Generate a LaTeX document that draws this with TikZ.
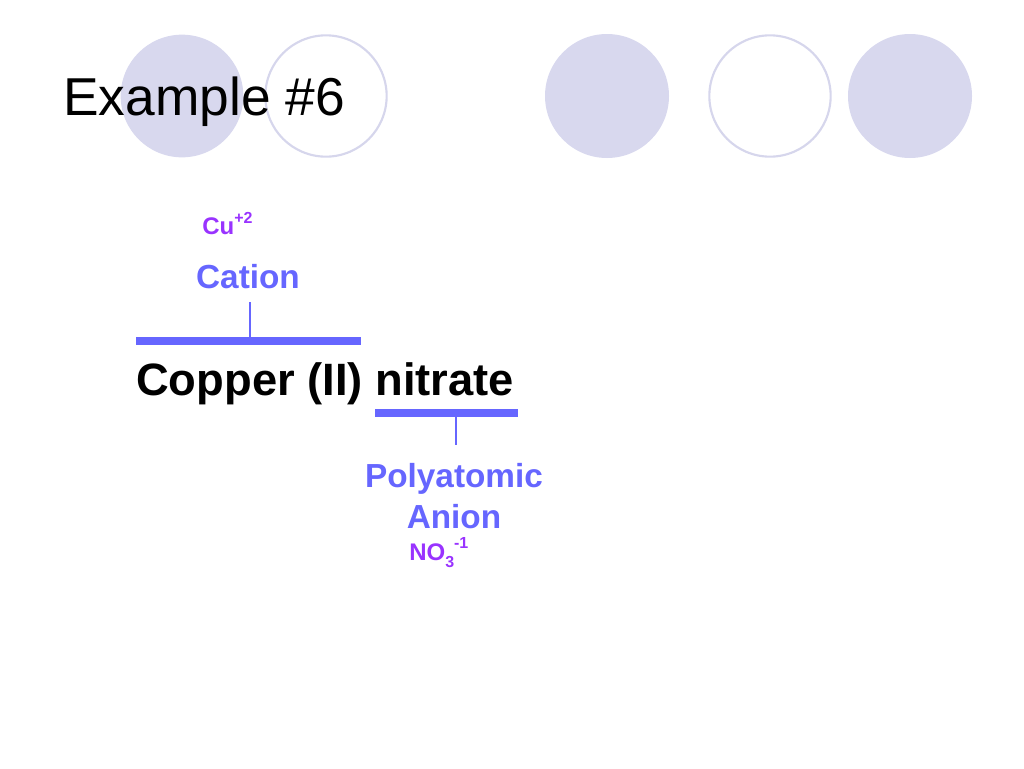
\documentclass[tikz,border=0pt]{standalone}
\usepackage{fontspec}
\setmainfont{Liberation Sans}
\definecolor{lav}{RGB}{216,216,238}
\definecolor{lavline}{RGB}{214,214,236}
\definecolor{ionblue}{RGB}{102,102,255}
\definecolor{ionpurple}{RGB}{153,51,255}
\tikzset{
  fillcirc/.style={fill=lav,draw=none},
  opencirc/.style={draw=lavline,line width=1.6pt,fill=white},
  bar/.style={draw=ionblue,line width=5.5pt},
  tick/.style={draw=ionblue,line width=1.5pt},
  lbl/.style={inner sep=0pt,anchor=base,text=ionblue,font=\fontsize{25}{30}\selectfont\bfseries},
  ion/.style={inner sep=0pt,anchor=base west,text=ionpurple,font=\fontsize{18}{22}\selectfont\bfseries},
}
\begin{document}
\begin{tikzpicture}[x=0.75pt,y=-0.75pt]
\useasboundingbox (0,0) rectangle (1024,768);
% decorative circles
\node[fillcirc,circle,minimum size=92pt,inner sep=0pt] (c1) at (182,96) {};
\node[opencirc,circle,minimum size=91pt,inner sep=0pt] (c2) at (326,96) {};
\node[fillcirc,circle,minimum size=93pt,inner sep=0pt] (c3) at (607,96) {};
\node[opencirc,circle,minimum size=91pt,inner sep=0pt] (c4) at (770,96) {};
\node[fillcirc,circle,minimum size=93pt,inner sep=0pt] (c5) at (910,96) {};
% title
\node[inner sep=0pt,anchor=base west,font=\fontsize{40}{48}\selectfont] (title) at (63,115) {Example \#6};
% main name
\node[inner sep=0pt,anchor=base west,font=\fontsize{34}{40}\selectfont\bfseries] (name) at (136,395) {Copper (II) nitrate};
% cation side
\node[ion] (cu) at (202,234) {Cu\raisebox{0.45em}{\fontsize{12}{14}\selectfont +2}};
\node[lbl] (cation) at (248,288) {Cation};
\coordinate (barA1) at (136,341);
\coordinate (barA2) at (361,341);
\coordinate (barAm) at (250,341);
\coordinate (tickA) at (250,302);
\draw[bar] (barA1) -- (barA2);
\draw[tick] (tickA) -- (barAm);
% anion side
\coordinate (barB1) at (375,413);
\coordinate (barB2) at (518,413);
\coordinate (barBm) at (456,413);
\coordinate (tickB) at (456,445);
\draw[bar] (barB1) -- (barB2);
\draw[tick] (barBm) -- (tickB);
\node[lbl] (poly) at (454,487) {Polyatomic};
\node[lbl] (anion) at (454,528) {Anion};
\node[ion] (no3) at (409,560) {NO\raisebox{-0.3em}{\fontsize{12}{14}\selectfont 3}\raisebox{0.5em}{\fontsize{12}{14}\selectfont -1}};
\end{tikzpicture}
\end{document}
